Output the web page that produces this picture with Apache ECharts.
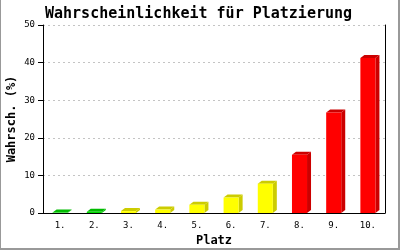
<!DOCTYPE html>
<html>
<head>
<meta charset="utf-8">
<script src="https://cdn.jsdelivr.net/npm/echarts@6/dist/echarts.min.js"></script>
<style>
  html, body { margin: 0; padding: 0; background: #fff; }
  #chart { width: 400px; height: 250px; }
</style>
</head>
<body>
<div id="chart"></div>
<script>
var places = ["1.", "2.", "3.", "4.", "5.", "6.", "7.", "8.", "9.", "10."];
var chances = [0.1, 0.3, 0.5, 0.9, 2.2, 4.1, 7.8, 15.5, 26.7, 41.2];
var yTicks = [0, 10, 20, 30, 40, 50];

(function () {
  var font = "'DejaVu Sans Mono', 'Liberation Mono', monospace";
  var colorFor = function (i) {
    if (i < 2) return { front: "#00dd00", dark: "#00bb00" };
    if (i < 7) return { front: "#ffff00", dark: "#cccc00" };
    return { front: "#ff0000", dark: "#cc0000" };
  };
  var pairs = chances.map(function (v, i) {
    return [i, v];
  });
  var myChart = echarts.init(document.getElementById("chart"));
  var option = {
    animation: false,
    title: {
      text: "Wahrscheinlichkeit für Platzierung",
      left: 40,
      top: 2,
      textStyle: { fontFamily: font, fontSize: 15, fontWeight: "bold", color: "#000" },
    },
    grid: { left: 43, right: 15, top: 25, bottom: 37, containLabel: false, outerBoundsMode: "none" },
    xAxis: {
      type: "category",
      data: places,
      name: "Platz",
      nameLocation: "middle",
      nameGap: 22,
      nameMoveOverlap: false,
      nameTextStyle: { fontFamily: font, fontSize: 12, fontWeight: "bold", color: "#000" },
      axisLine: { lineStyle: { color: "#000", width: 1 } },
      axisTick: { show: false },
      axisLabel: { fontFamily: font, fontSize: 9, color: "#000", margin: 8 },
      splitLine: { show: false },
    },
    yAxis: [
      {
        type: "value",
        min: yTicks[0],
        max: yTicks[yTicks.length - 1],
        interval: 10,
        name: "Wahrsch. (%)",
        nameLocation: "middle",
        nameGap: 25,
        nameMoveOverlap: false,
        nameTextStyle: { fontFamily: font, fontSize: 12, fontWeight: "bold", color: "#000" },
        axisLine: { show: true, lineStyle: { color: "#000" } },
        axisTick: { show: true, length: 5, lineStyle: { color: "#000" } },
        axisLabel: { fontFamily: font, fontSize: 9, color: "#000", margin: 8 },
        splitLine: { show: true, lineStyle: { color: "#c4c4c4", type: [2, 3] } },
      },
      {
        type: "value",
        position: "right",
        min: 0,
        max: 50,
        axisLine: { show: true, lineStyle: { color: "#000" } },
        axisTick: { show: false },
        axisLabel: { show: false },
        splitLine: { show: false },
      },
    ],
    series: [
      {
        type: "custom",
        data: pairs,
        encode: { x: 0, y: 1 },
        renderItem: function (params, api) {
          var i = api.value(0);
          var top = api.coord([i, api.value(1)]);
          var base = api.coord([i, 0]);
          var w = api.size([1, 0])[0] * 0.44;
          var dx = 4, dy = 3;
          var l = top[0] - w / 2, r = top[0] + w / 2;
          var c = colorFor(params.dataIndex);
          return {
            type: "group",
            children: [
              {
                type: "polygon",
                shape: { points: [[r, top[1]], [r + dx, top[1] - dy], [r + dx, base[1] - dy], [r, base[1]]] },
                style: { fill: c.dark },
              },
              {
                type: "polygon",
                shape: { points: [[l, top[1]], [l + dx, top[1] - dy], [r + dx, top[1] - dy], [r, top[1]]] },
                style: { fill: c.dark },
              },
              {
                type: "rect",
                shape: { x: l, y: top[1], width: w, height: base[1] - top[1] },
                style: { fill: c.front },
              },
            ],
          };
        },
      },
    ],
    graphic: [
      { type: "rect", shape: { x: 0, y: 0, width: 1, height: 250 }, style: { fill: "#999" } },
      { type: "rect", shape: { x: 398, y: 0, width: 2, height: 250 }, style: { fill: "#999" } },
      { type: "rect", shape: { x: 0, y: 248, width: 400, height: 2 }, style: { fill: "#999" } },
    ],
  };
  myChart.setOption(option);
})();
</script>
</body>
</html>
